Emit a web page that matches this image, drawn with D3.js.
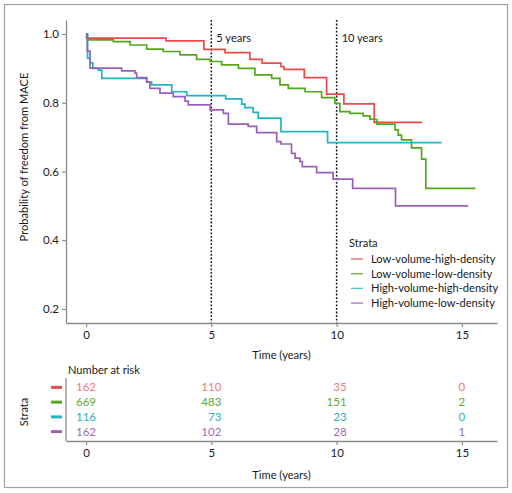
<!DOCTYPE html>
<html>
<head>
<meta charset="utf-8">
<script src="https://cdn.jsdelivr.net/npm/d3@7"></script>
<style>
  body { margin: 0; background: #fff; }
  svg text { font-family: Lato, "Liberation Sans", sans-serif; fill: #1a1a1a; }
</style>
</head>
<body>
<div id="chart"></div>
<script>
// strata names and colours
var strata = ["Low-volume-high-density", "Low-volume-low-density", "High-volume-high-density", "High-volume-low-density"];
var lineColors = ["#ee4848", "#52a81a", "#20b4c6", "#9a60b8"];
var textColors = ["#f07a78", "#62aa2c", "#26b4bd", "#9a6bc0"];

// Kaplan-Meier steps (time in years, survival)
var lvhdTime = [0, 0.02, 3.19, 4.7, 5.55, 6.54, 7.03, 7.78, 7.9, 8.71, 9.6, 10.29, 11.5, 13.41];
var lvhdSurv = [1.0, 0.988, 0.980, 0.955, 0.946, 0.926, 0.915, 0.905, 0.897, 0.873, 0.825, 0.797, 0.743, 0.743];

var lvldTime = [0, 0.05, 1.09, 1.76, 2.42, 3.08, 3.75, 4.41, 4.95, 5.41, 6.08, 6.74, 7.41, 7.74, 8.07, 8.74, 9.4, 9.93, 10.13, 10.53, 11.06, 11.33, 11.6, 12.33, 12.46, 12.59, 12.99, 13.39, 13.56, 15.54];
var lvldSurv = [1.0, 0.983, 0.978, 0.968, 0.956, 0.949, 0.939, 0.926, 0.920, 0.910, 0.900, 0.881, 0.871, 0.852, 0.842, 0.832, 0.815, 0.798, 0.774, 0.769, 0.762, 0.752, 0.738, 0.721, 0.706, 0.692, 0.669, 0.636, 0.551, 0.551];

var hvhdTime = [0, 0.06, 0.16, 0.27, 0.49, 0.63, 2.42, 2.62, 3.42, 4.02, 5.57, 6.21, 6.34, 6.67, 6.87, 7.78, 9.64, 14.19];
var hvhdSurv = [1.0, 0.93, 0.916, 0.90, 0.895, 0.871, 0.860, 0.852, 0.832, 0.821, 0.811, 0.796, 0.786, 0.772, 0.755, 0.716, 0.684, 0.684];

var hvldTime = [0, 0.05, 0.16, 1.42, 1.95, 2.02, 2.42, 2.55, 2.95, 3.48, 3.95, 4.08, 4.95, 5.48, 5.68, 6.47, 6.81, 7.61, 7.78, 8.2, 8.34, 8.54, 8.63, 9.2, 9.86, 10.64, 12.35, 15.25];
var hvldSurv = [1.0, 0.95, 0.901, 0.893, 0.886, 0.873, 0.861, 0.842, 0.828, 0.818, 0.805, 0.794, 0.779, 0.769, 0.738, 0.731, 0.713, 0.687, 0.680, 0.653, 0.639, 0.629, 0.614, 0.597, 0.578, 0.551, 0.500, 0.500];

// number at risk table
var riskTimes = [0, 5, 10, 15];
var riskLvhd = [162, 110, 35, 0];
var riskLvld = [669, 483, 151, 2];
var riskHvhd = [116, 73, 23, 0];
var riskHvld = [162, 102, 28, 1];

var xTicks = [0, 5, 10, 15];
var yTicks = [0.2, 0.4, 0.6, 0.8, 1.0];
var markYears = [5, 10];
var markLabels = ["5 years", "10 years"];

var times = [lvhdTime, lvldTime, hvhdTime, hvldTime];
var survs = [lvhdSurv, lvldSurv, hvhdSurv, hvldSurv];
var risks = [riskLvhd, riskLvld, riskHvhd, riskHvld];

var W = 512, H = 493;
var axisColor = "#8a8a8a";
var fs = 11.1;

var svg = d3.select("#chart").append("svg")
    .attr("width", W)
    .attr("height", H);

// outer frame
svg.append("rect")
    .attr("x", 4.5).attr("y", 4.5)
    .attr("width", 503).attr("height", 483)
    .attr("fill", "none")
    .attr("stroke", "#a0a0a0")
    .attr("stroke-width", 1.2);

// scales
var x = d3.scaleLinear().domain([-0.8, 16.4]).range([66, 497]);
var y = d3.scaleLinear().domain([0.1593, 1.0407]).range([323, 20]);

function styleAxis(g) {
    g.select(".domain").attr("stroke", axisColor).attr("stroke-width", 1.3);
    g.selectAll(".tick line").attr("stroke", axisColor).attr("stroke-width", 1.2);
    g.selectAll(".tick text").style("font-size", (fs + 0.4) + "px").attr("fill", "#1a1a1a");
}

// main x axis
svg.append("g")
    .attr("transform", "translate(0," + y.range()[0] + ")")
    .call(d3.axisBottom(x).tickValues(xTicks).tickSize(4).tickSizeOuter(0).tickPadding(4))
    .call(styleAxis);

// main y axis
svg.append("g")
    .attr("transform", "translate(" + x.range()[0] + ",0)")
    .call(d3.axisLeft(y).tickValues(yTicks).tickFormat(d3.format(".1f")).tickSize(4).tickSizeOuter(0).tickPadding(3))
    .call(styleAxis);

svg.append("text")
    .attr("transform", "translate(24,157) rotate(-90)")
    .attr("text-anchor", "middle")
    .attr("dy", "0.35em")
    .style("font-size", fs + "px")
    .text("Probability of freedom from MACE");

svg.append("text")
    .attr("x", (x.range()[0] + x.range()[1]) / 2)
    .attr("y", 355)
    .attr("dy", "0.35em")
    .attr("text-anchor", "middle")
    .style("font-size", fs + "px")
    .text("Time (years)");

// dotted year markers
svg.selectAll(".mark")
    .data(markYears)
    .enter().append("line")
    .attr("class", "mark")
    .attr("x1", function (d) { return x(d); })
    .attr("x2", function (d) { return x(d); })
    .attr("y1", y.range()[1])
    .attr("y2", y.range()[0])
    .attr("stroke", "#111")
    .attr("stroke-width", 1.5)
    .attr("stroke-dasharray", "1.8,1.8");

svg.selectAll(".markLabel")
    .data(markYears)
    .enter().append("text")
    .attr("class", "markLabel")
    .attr("x", function (d) { return x(d) + 5; })
    .attr("y", y(1.0) + 4)
    .attr("dy", "0.35em")
    .style("font-size", fs + "px")
    .text(function (d, i) { return markLabels[i]; });

// survival curves
var line = d3.line()
    .x(function (d) { return x(d[0]); })
    .y(function (d) { return y(d[1]); })
    .curve(d3.curveStepAfter);

strata.forEach(function (s, i) {
    var pts = d3.zip(times[i], survs[i]);
    svg.append("path")
        .datum(pts)
        .attr("fill", "none")
        .attr("stroke", lineColors[i])
        .attr("stroke-width", 1.7)
        .attr("d", line);
});

// legend
var legX = 349, legY = 243, legStep = 14.7;
svg.append("text")
    .attr("x", legX)
    .attr("y", legY)
    .attr("dy", "0.35em")
    .style("font-size", fs + "px")
    .text("Strata");

var leg = svg.selectAll(".leg")
    .data(strata)
    .enter().append("g")
    .attr("class", "leg")
    .attr("transform", function (d, i) { return "translate(" + legX + "," + (legY + 16 + i * legStep) + ")"; });

leg.append("line")
    .attr("x1", 2).attr("x2", 14)
    .attr("stroke", function (d, i) { return lineColors[i]; })
    .attr("stroke-width", 1.4)
    .attr("opacity", 0.8);

leg.append("text")
    .attr("x", 22)
    .attr("dy", "0.35em")
    .style("font-size", fs + "px")
    .text(function (d) { return d; });

// number at risk table
var ty = d3.scaleBand().domain(strata).range([380, 439]);

svg.append("text")
    .attr("x", 68)
    .attr("y", 370)
    .attr("dy", "0.35em")
    .style("font-size", fs + "px")
    .text("Number at risk");

svg.append("g")
    .attr("transform", "translate(0,441)")
    .call(d3.axisBottom(x).tickValues(xTicks).tickSize(4).tickSizeOuter(0).tickPadding(4))
    .call(styleAxis);

svg.append("line")
    .attr("x1", x.range()[0]).attr("x2", x.range()[0])
    .attr("y1", 378).attr("y2", 441)
    .attr("stroke", axisColor)
    .attr("stroke-width", 1.3);

svg.selectAll(".riskKey")
    .data(strata)
    .enter().append("line")
    .attr("class", "riskKey")
    .attr("x1", 51).attr("x2", 62)
    .attr("y1", function (d) { return ty(d) + ty.bandwidth() / 2; })
    .attr("y2", function (d) { return ty(d) + ty.bandwidth() / 2; })
    .attr("stroke", function (d, i) { return lineColors[i]; })
    .attr("stroke-width", 3);

var rows = svg.selectAll(".riskRow")
    .data(strata)
    .enter().append("g")
    .attr("class", "riskRow")
    .attr("transform", function (d) { return "translate(0," + (ty(d) + ty.bandwidth() / 2) + ")"; });

var cells = rows.selectAll("text")
    .data(function (d, i) { return risks[i].map(function (v, j) { return { v: v, t: riskTimes[j], row: i, col: j }; }); })
    .enter().append("text")
    .attr("dy", "0.35em")
    .attr("text-anchor", "end")
    .style("font-size", (fs + 0.4) + "px")
    .style("fill", function (d) { return textColors[d.row]; })
    .text(function (d) { return d.v; });

// numbers are right aligned inside a column centred on the tick
var colWidth = riskTimes.map(function () { return 0; });
cells.each(function (d) { colWidth[d.col] = Math.max(colWidth[d.col], this.getComputedTextLength()); });
cells.attr("x", function (d) { return x(d.t) + colWidth[d.col] / 2; });

svg.append("text")
    .attr("transform", "translate(24,412) rotate(-90)")
    .attr("text-anchor", "middle")
    .attr("dy", "0.35em")
    .style("font-size", fs + "px")
    .text("Strata");

svg.append("text")
    .attr("x", (x.range()[0] + x.range()[1]) / 2)
    .attr("y", 475)
    .attr("dy", "0.35em")
    .attr("text-anchor", "middle")
    .style("font-size", fs + "px")
    .text("Time (years)");
</script>
</body>
</html>
